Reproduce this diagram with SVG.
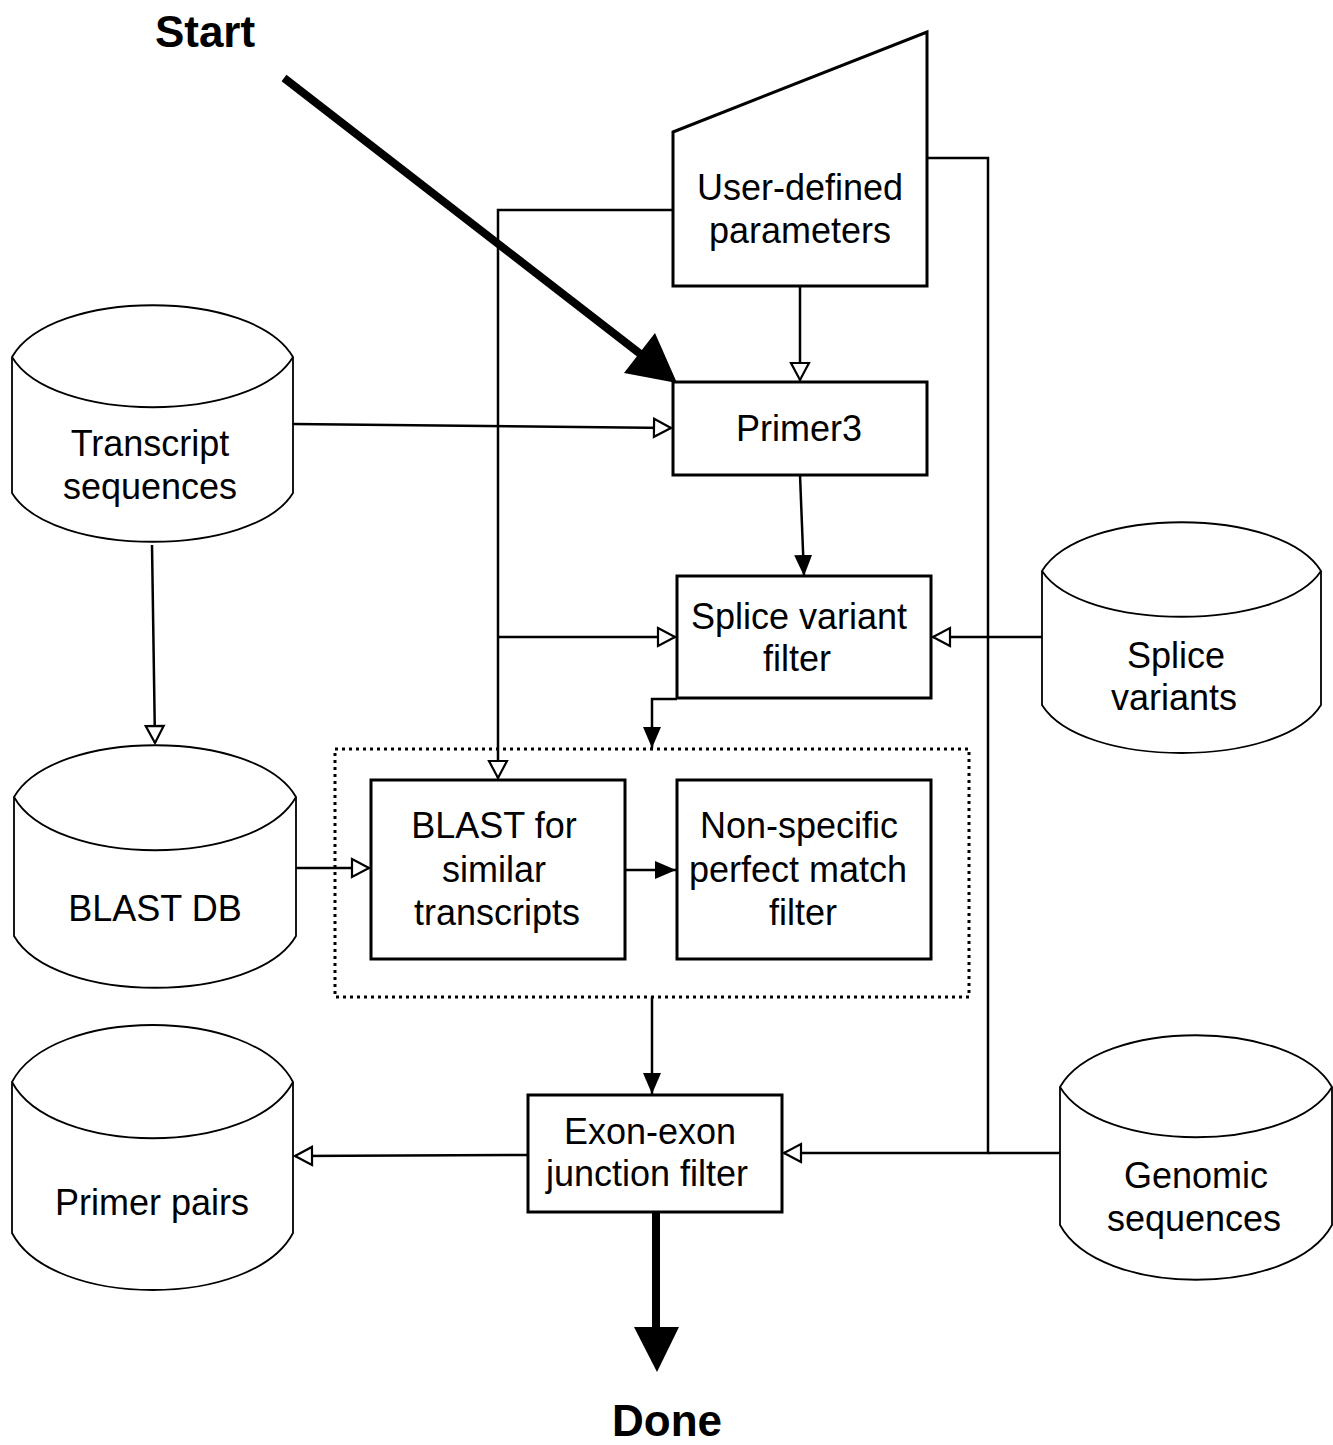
<svg xmlns="http://www.w3.org/2000/svg" width="1333" height="1445" viewBox="0 0 1333 1445">
<defs>
<style>
.box{fill:#fff;stroke:#000;stroke-width:3}
.cyl{fill:#fff;stroke:#000;stroke-width:1.8}
.cylf{fill:none;stroke:#000;stroke-width:1.8}
.ln{fill:none;stroke:#000;stroke-width:2.5}
.t{font-family:"Liberation Sans",Arial,sans-serif;font-size:36px;fill:#000;text-anchor:middle}
.b{font-family:"Liberation Sans",Arial,sans-serif;font-size:44px;font-weight:bold;fill:#000;text-anchor:middle}
</style>
<marker id="ho" markerUnits="userSpaceOnUse" viewBox="-2 -2 22 22" refX="17" refY="9" markerWidth="22" markerHeight="22" orient="auto">
<path d="M0,0 L17,9 L0,18 Z" fill="#fff" stroke="#000" stroke-width="2.2"/>
</marker>
<marker id="fi" markerUnits="userSpaceOnUse" viewBox="0 0 22 18" refX="21" refY="9" markerWidth="22" markerHeight="18" orient="auto">
<path d="M0,0 L21,9 L0,18 Z" fill="#000"/>
</marker>
</defs>
<rect width="1333" height="1445" fill="#fff"/>

<g id="connectors">
<path class="ln" d="M673,210 L498,210 L498,778" marker-end="url(#ho)"/>
<path class="ln" d="M498,637 L675,637" marker-end="url(#ho)"/>
<path class="ln" d="M927,158 L988,158 L988,1153 L784,1153" marker-end="url(#ho)"/>
<path class="ln" d="M1060,1153 L988,1153"/>
<path class="ln" d="M800,286 L800,380" marker-end="url(#ho)"/>
<path class="ln" d="M293,424 L671,428" marker-end="url(#ho)"/>
<path class="ln" d="M152,545 L155,743" marker-end="url(#ho)"/>
<path class="ln" d="M1042,637 L933,637" marker-end="url(#ho)"/>
<path class="ln" d="M800,475 L804,576" marker-end="url(#fi)"/>
<path class="ln" d="M677,699 L652,699 L652,748" marker-end="url(#fi)"/>
<path class="ln" d="M296,868 L369,868" marker-end="url(#ho)"/>
<path class="ln" d="M625,870 L676,870" marker-end="url(#fi)"/>
<path class="ln" d="M652,997 L652,1094" marker-end="url(#fi)"/>
<path class="ln" d="M527,1155 L295,1156" marker-end="url(#ho)"/>
<line x1="284" y1="78" x2="643" y2="356" stroke="#000" stroke-width="8"/>
<polygon points="677,383 624,373 655,333" fill="#000"/>
<line x1="656" y1="1212" x2="656" y2="1330" stroke="#000" stroke-width="8"/>
<polygon points="634,1327 679,1327 657,1372" fill="#000"/>
</g>

<g id="start"><text class="b" x="205" y="47">Start</text></g>
<g id="done"><text class="b" x="667" y="1436">Done</text></g>

<g id="user-params">
<polygon class="box" points="673,132 927,32 927,286 673,286"/>
<text class="t" x="800" y="200">User-defined</text>
<text class="t" x="800" y="243">parameters</text>
</g>

<g id="primer3">
<rect class="box" x="673" y="382" width="254" height="93"/>
<text class="t" x="799" y="441">Primer3</text>
</g>

<g id="transcripts">
<path class="cyl" d="M12,357 C52,288 253,288 293,357 L293,493 C253,558 52,558 12,493 Z"/>
<path class="cylf" d="M12,357 C52,424 253,424 293,357"/>
<text class="t" x="150" y="456">Transcript</text>
<text class="t" x="150" y="499">sequences</text>
</g>

<g id="splice-filter">
<rect class="box" x="677" y="576" width="254" height="122"/>
<text class="t" x="799" y="629">Splice variant</text>
<text class="t" x="797" y="671">filter</text>
</g>

<g id="splice-variants">
<path class="cyl" d="M1042,571 C1082,506 1281,506 1321,571 L1321,705 C1281,769 1082,769 1042,705 Z"/>
<path class="cylf" d="M1042,571 C1082,632 1281,632 1321,571"/>
<text class="t" x="1176" y="668">Splice</text>
<text class="t" x="1174" y="710">variants</text>
</g>

<g id="blast-group">
<rect x="335" y="749" width="634" height="248" fill="none" stroke="#000" stroke-width="3" stroke-dasharray="3,4"/>
</g>

<g id="blast-db">
<path class="cyl" d="M14,797 C54,728 256,728 296,797 L296,936 C256,1005 54,1005 14,936 Z"/>
<path class="cylf" d="M14,797 C54,868 256,868 296,797"/>
<text class="t" x="155" y="921">BLAST DB</text>
</g>

<g id="blast">
<rect class="box" x="371" y="780" width="254" height="179"/>
<text class="t" x="494" y="838">BLAST for</text>
<text class="t" x="494" y="882">similar</text>
<text class="t" x="497" y="925">transcripts</text>
</g>

<g id="nonspecific">
<rect class="box" x="677" y="780" width="254" height="179"/>
<text class="t" x="799" y="838">Non-specific</text>
<text class="t" x="798" y="882">perfect match</text>
<text class="t" x="803" y="925">filter</text>
</g>

<g id="exon">
<rect class="box" x="528" y="1095" width="254" height="117"/>
<text class="t" x="650" y="1144">Exon-exon</text>
<text class="t" x="647" y="1186">junction filter</text>
</g>

<g id="primer-pairs">
<path class="cyl" d="M12,1082 C52,1006 253,1006 293,1082 L293,1233 C253,1309 52,1309 12,1233 Z"/>
<path class="cylf" d="M12,1082 C52,1157 253,1157 293,1082"/>
<text class="t" x="152" y="1215">Primer pairs</text>
</g>

<g id="genomic">
<path class="cyl" d="M1060,1087 C1100,1018 1292,1018 1332,1087 L1332,1225 C1292,1298 1100,1298 1060,1225 Z"/>
<path class="cylf" d="M1060,1087 C1100,1154 1292,1154 1332,1087"/>
<text class="t" x="1196" y="1188">Genomic</text>
<text class="t" x="1194" y="1231">sequences</text>
</g>
</svg>
